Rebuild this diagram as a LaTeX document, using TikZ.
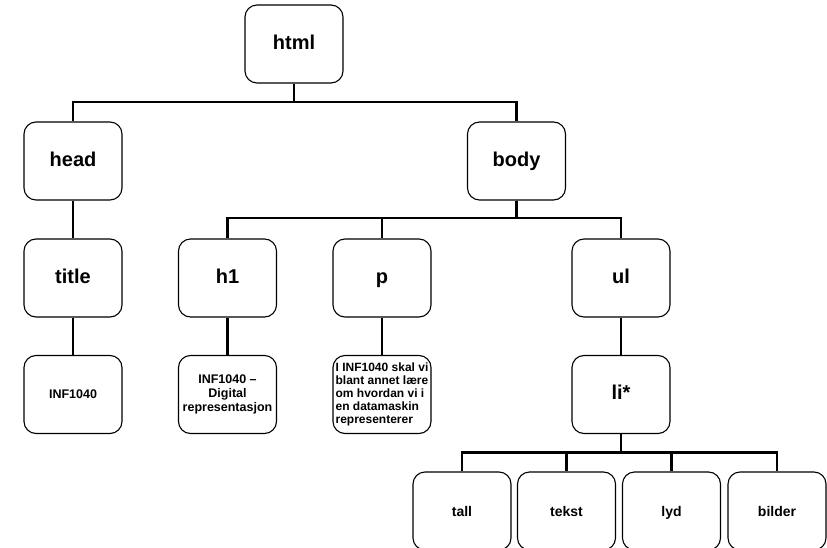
\documentclass[tikz,border=0pt]{standalone}
\usepackage{fontspec}
\setmainfont{Liberation Sans}
\begin{document}
\begin{tikzpicture}[x=1pt,y=-1pt,
  boxbase/.style={draw, rectangle, rounded corners=12pt, line width=1.1pt, fill=white,
    minimum width=98pt, minimum height=78pt, inner sep=0pt},
  box/.style={boxbase, font=\bfseries\fontsize{20}{23}\selectfont, text height=1.05em, text depth=0em},
  leaf/.style={boxbase, font=\bfseries\fontsize{12.5}{14}\selectfont, align=center},
  small/.style={boxbase, font=\bfseries\fontsize{14}{16}\selectfont, text height=1.05em, text depth=0em},
  edge/.style={line width=2.8pt}]
\useasboundingbox (0,0) rectangle (827,548);
% nodes
\node[box] (html) at (294,44) {html};
\node[box] (head) at (73,161) {head};
\node[box] (body) at (516.5,161) {body};
\node[box] (title) at (73,278) {title};
\node[box] (h1) at (227.5,278) {h1};
\node[box] (p) at (382,278) {p};
\node[box] (ul) at (621,278) {ul};
\node[box] (li) at (621,394.5) {li*};
\node[leaf] (titletext) at (73,394.5) {INF1040};
\node[leaf] (h1text) at (227.5,394.5) {INF1040 –\\Digital\\representasjon};
\node[boxbase, font=\bfseries\fontsize{12}{13}\selectfont, align=left] (ptext) at (382,394.5) {I INF1040 skal vi\\blant annet lære\\om hvordan vi i\\en datamaskin\\representerer};
\node[small] (tall) at (462,511) {tall};
\node[small] (tekst) at (566.5,511) {tekst};
\node[small] (lyd) at (671.5,511) {lyd};
\node[small] (bilder) at (777,511) {bilder};
% bar levels
\coordinate (b1) at (0,102);
\coordinate (b2) at (0,218);
\coordinate (b3) at (0,452.5);
% edges
\draw[edge] (html.south) -- (html.south |- b1) -| (head.north);
\draw[edge] (html.south) -- (html.south |- b1) -| (body.north);
\draw[edge] (head.south) -- (title.north);
\draw[edge] (title.south) -- (titletext.north);
\draw[edge] (body.south) -- (body.south |- b2) -| (h1.north);
\draw[edge] (body.south) -- (body.south |- b2) -| (p.north);
\draw[edge] (body.south) -- (body.south |- b2) -| (ul.north);
\draw[edge] (h1.south) -- (h1text.north);
\draw[edge] (p.south) -- (ptext.north);
\draw[edge] (ul.south) -- (li.north);
\draw[edge] (li.south) -- (li.south |- b3) -| (tall.north);
\draw[edge] (li.south) -- (li.south |- b3) -| (tekst.north);
\draw[edge] (li.south) -- (li.south |- b3) -| (lyd.north);
\draw[edge] (li.south) -- (li.south |- b3) -| (bilder.north);
\end{tikzpicture}
\end{document}
